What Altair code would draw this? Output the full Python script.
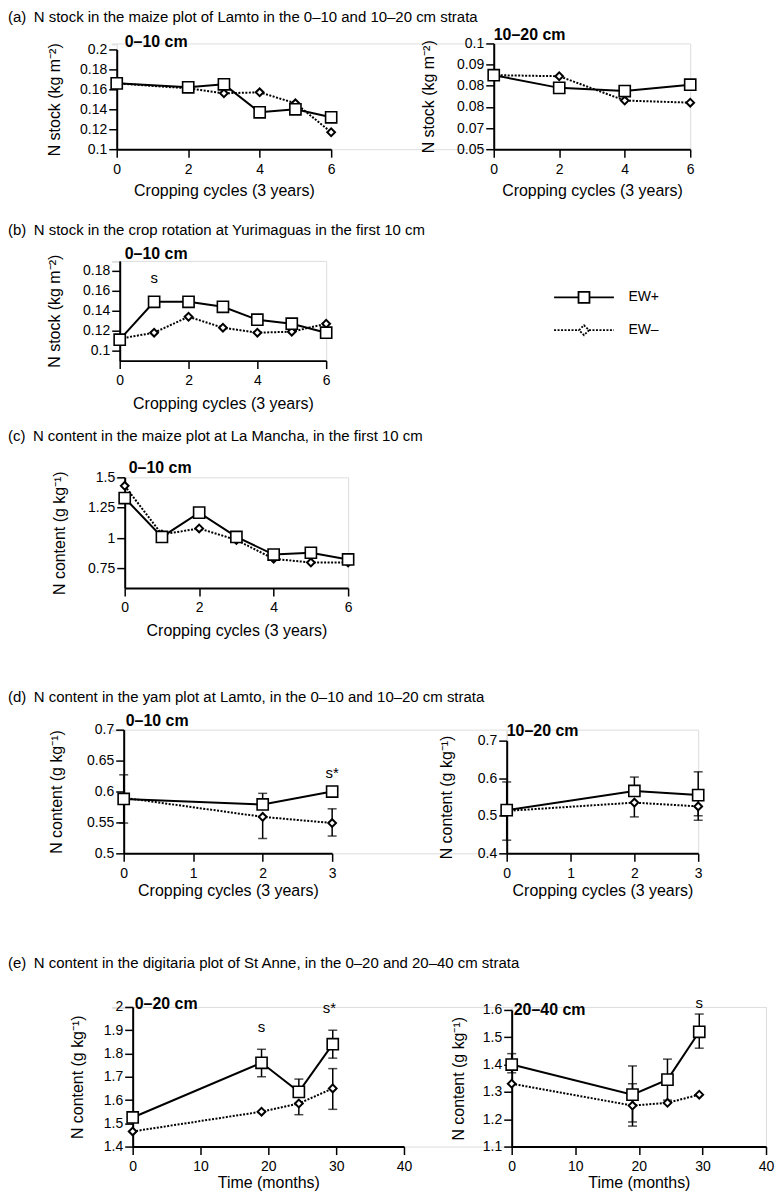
import altair as alt
import pandas as pd

FONT = "Liberation Sans"

# ---------------- data ----------------
# (a) Lamto maize plot, 0-10 cm
a1_x_p = [0, 2, 3, 4, 5, 6]
a1_y_p = [0.166, 0.162, 0.165, 0.137, 0.140, 0.132]
a1_x_m = [0, 2, 3, 4, 5, 6]
a1_y_m = [0.166, 0.161, 0.156, 0.157, 0.146, 0.117]
a1_yticks = [0.1, 0.12, 0.14, 0.16, 0.18, 0.2]
a1_ylabels = ["0.1", "0.12", "0.14", "0.16", "0.18", "0.2"]

# (a) Lamto maize plot, 10-20 cm
a2_x = [0, 2, 4, 6]
a2_y_p = [0.085, 0.079, 0.0775, 0.0805]
a2_y_m = [0.085, 0.0845, 0.073, 0.072]
a2_yticks = [0.05, 0.06, 0.07, 0.08, 0.09, 0.1]
a2_ylabels = ["0.05", "0.07", "0.08", "0.08", "0.09", "0.1"]

# (b) Yurimaguas crop rotation, 0-10 cm
b_x = [0, 1, 2, 3, 4, 5, 6]
b_y_p = [0.111, 0.149, 0.149, 0.144, 0.131, 0.127, 0.118]
b_y_m = [0.112, 0.118, 0.134, 0.123, 0.118, 0.119, 0.127]
b_yticks = [0.1, 0.12, 0.14, 0.16, 0.18]
b_ylabels = ["0.1", "0.12", "0.14", "0.16", "0.18"]
b_ann_x, b_ann_y, b_ann_t = [1], [0.173], ["s"]

# (c) La Mancha maize plot, 0-10 cm
c_x = [0, 1, 2, 3, 4, 5, 6]
c_y_p = [1.33, 1.01, 1.21, 1.01, 0.865, 0.88, 0.825]
c_y_m = [1.43, 1.03, 1.08, 0.985, 0.83, 0.80, 0.80]
c_yticks = [0.75, 1, 1.25, 1.5]
c_ylabels = ["0.75", "1", "1.25", "1.5"]

# (d) Lamto yam plot, 0-10 cm
d1_x = [0, 2, 3]
d1_y_p = [0.588, 0.579, 0.600]
d1_y_m = [0.590, 0.559, 0.549]
d1_err_x = [0, 2, 2, 3]
d1_err_lo = [0.549, 0.579, 0.524, 0.528]
d1_err_hi = [0.627, 0.597, 0.559, 0.572]
d1_yticks = [0.5, 0.55, 0.6, 0.65, 0.7]
d1_ylabels = ["0.5", "0.55", "0.6", "0.65", "0.7"]
d1_ann_x, d1_ann_y, d1_ann_t = [3], [0.63], ["s*"]

# (d) Lamto yam plot, 10-20 cm
d2_x = [0, 2, 3]
d2_y_p = [0.515, 0.566, 0.555]
d2_y_m = [0.513, 0.535, 0.525]
d2_err_x = [0, 2, 2, 3, 3]
d2_err_lo = [0.435, 0.566, 0.497, 0.500, 0.488]
d2_err_hi = [0.590, 0.603, 0.535, 0.617, 0.525]
d2_yticks = [0.4, 0.5, 0.6, 0.7]
d2_ylabels = ["0.4", "0.5", "0.6", "0.7"]

# (e) St Anne digitaria plot, 0-20 cm
e_x = [0, 19, 24.5, 29.5]
e1_y_p = [1.525, 1.76, 1.635, 1.84]
e1_y_m = [1.465, 1.55, 1.585, 1.65]
e1_err_x = [19, 24.5, 24.5, 29.5, 29.5]
e1_err_lo = [1.70, 1.635, 1.537, 1.78, 1.56]
e1_err_hi = [1.818, 1.69, 1.585, 1.90, 1.735]
e1_yticks = [1.4, 1.5, 1.6, 1.7, 1.8, 1.9, 2.0]
e1_ylabels = ["1.4", "1.5", "1.6", "1.7", "1.8", "1.9", "2"]
e1_ann_x, e1_ann_y, e1_ann_t = [19, 29], [1.915, 1.995], ["s", "s*"]

# (e) St Anne digitaria plot, 20-40 cm
e2_y_p = [1.40, 1.29, 1.345, 1.52]
e2_y_m = [1.33, 1.25, 1.26, 1.29]
e2_err_x = [0, 19, 19, 24.5, 29.5]
e2_err_lo = [1.37, 1.19, 1.175, 1.27, 1.46]
e2_err_hi = [1.44, 1.395, 1.33, 1.42, 1.585]
e2_yticks = [1.1, 1.2, 1.3, 1.4, 1.5, 1.6]
e2_ylabels = ["1.1", "1.2", "1.3", "1.4", "1.5", "1.6"]
e2_ann_x, e2_ann_y, e2_ann_t = [29.5], [1.625], ["s"]

cyc_ticks6 = [0, 2, 4, 6]
cyc_labels6 = ["0", "2", "4", "6"]
cyc_ticks3 = [0, 1, 2, 3]
cyc_labels3 = ["0", "1", "2", "3"]
month_ticks = [0, 10, 20, 30, 40]
month_labels = ["0", "10", "20", "30", "40"]

series_names = ["EW+", "EW–"]
legend_shapes = [
    "M-4,0H-0.733M0.733,0H4M-0.733,-0.733H0.733V0.733H-0.733Z",
    "M-4,0H-0.667M0.667,0H4M-0.667,0L0,-0.667L0.667,0L0,0.667Z",
]
legend_dash = [[1, 0], [2, 1.5]]

T_STOCK = "N stock (kg m⁻²)"
T_CONT = "N content (g kg⁻¹)"
T_CYC = "Cropping cycles (3 years)"
T_TIME = "Time (months)"

AX = dict(domain=True, domainColor="black", domainWidth=2, tickColor="black", tickWidth=1.5,
          tickSize=8, labelFont=FONT, labelFontSize=14, labelColor="black",
          titleFont=FONT, titleFontSize=16, titleColor="black",
          titleFontWeight="normal", grid=False, labelOverlap=False, labelFlush=False)


def label_expr(values, labels):
    expr = "''"
    for v, l in reversed(list(zip(values, labels))):
        expr = f"abs(datum.value - {v}) < 1e-6 ? '{l}' : ({expr})"
    return expr


def panel(x_p, y_p, x_m, y_m, xdom, xticks, xlabels, xtitle, ydom, yticks, ylabels,
          ytitle, w, h, yrange, ytitle_x, sub, sub_dx, sub_dy,
          err=None, ann=None, legend=False, x_title_pad=4, group_w=None):
    def X(f):
        return alt.X(f"{f}:Q",
                     scale=alt.Scale(domain=xdom, nice=False, zero=False, range=[0, w]),
                     axis=alt.Axis(values=xticks, title=xtitle,
                                   labelExpr=label_expr(xticks, xlabels),
                                   labelPadding=5, titlePadding=x_title_pad, **AX))

    def Y(f):
        return alt.Y(f"{f}:Q",
                     scale=alt.Scale(domain=ydom, nice=False, zero=False, range=yrange),
                     axis=alt.Axis(values=yticks, title=ytitle, titleX=ytitle_x,
                                   titleBaseline="middle", labelPadding=2,
                                   labelExpr=label_expr(yticks, ylabels), **AX))

    dp = pd.DataFrame({"x": x_p, "y": y_p})
    dm = pd.DataFrame({"x": x_m, "y": y_m})
    layers = [
        alt.Chart(dm).mark_line(color="black", strokeWidth=2, strokeDash=[2, 1.5])
        .encode(x=X("x"), y=Y("y")),
        alt.Chart(dp).mark_line(color="black", strokeWidth=2)
        .encode(x=X("x"), y=Y("y")),
    ]
    if err is not None:
        de = pd.DataFrame({"x": err[0], "lo": err[1], "hi": err[2]})
        layers.append(
            alt.Chart(de).mark_errorbar(ticks=True, size=9, thickness=1.5, color="black")
            .encode(x=X("x"), y=Y("lo"), y2=alt.Y2("hi"))
        )
    layers.append(
        alt.Chart(dm).mark_point(shape="diamond", size=60, filled=True, fill="white",
                                 stroke="black", strokeWidth=2, opacity=1)
        .encode(x=X("x"), y=Y("y"))
    )
    layers.append(
        alt.Chart(dp).mark_point(shape="square", size=125, filled=True, fill="white",
                                 stroke="black", strokeWidth=1.6, opacity=1)
        .encode(x=X("x"), y=Y("y"))
    )
    if ann is not None:
        da = pd.DataFrame({"x": ann[0], "y": ann[1], "t": ann[2]})
        layers.append(
            alt.Chart(da).mark_text(font=FONT, fontSize=15, color="black")
            .encode(x=X("x"), y=Y("y"), text="t:N")
        )
    if legend:
        dl = pd.DataFrame({"x": x_p[:2], "y": y_p[:2], "series": series_names})
        leg = dict(title=None, orient="none", legendX=457, legendY=28,
                   symbolSize=225, symbolStrokeWidth=1.8, symbolStrokeColor="black",
                   symbolFillColor="white", symbolOpacity=1, labelOffset=36,
                   rowPadding=14, labelFont=FONT, labelFontSize=14, labelColor="black")
        layers.append(
            alt.Chart(dl).mark_point(opacity=0)
            .encode(
                x=X("x"), y=Y("y"),
                shape=alt.Shape("series:N",
                                scale=alt.Scale(domain=series_names, range=legend_shapes),
                                legend=alt.Legend(**leg)),
                strokeDash=alt.StrokeDash("series:N",
                                          scale=alt.Scale(domain=series_names, range=legend_dash),
                                          legend=alt.Legend(**leg)),
            )
        )
    return alt.layer(*layers).properties(
        width=group_w if group_w else w, height=h,
        title=alt.TitleParams(sub, anchor="start", frame="group", offset=0, dx=sub_dx,
                              dy=sub_dy, baseline="alphabetic", font=FONT, fontSize=16,
                              fontWeight="bold", color="black"),
    )


def spacer(width):
    # empty, invisible cell that sets where a row's first panel starts
    return (alt.Chart(pd.DataFrame({"s": [0]})).mark_point(opacity=0)
            .encode(x=alt.X("s:Q", axis=None), y=alt.Y("s:Q", axis=None))
            .properties(width=width, height=1))


ORIGIN = 112
ROW_DX = -(ORIGIN - 8)


def row(axis_x, charts, text, dy):
    return alt.hconcat(spacer(axis_x - ORIGIN), *charts, spacing=0, bounds="flush").properties(
        title=alt.TitleParams(text, anchor="start", frame="group", offset=0, dx=ROW_DX, dy=dy,
                              baseline="alphabetic", font=FONT, fontSize=15,
                              fontWeight="normal", color="black")
    )


pa1 = panel(a1_x_p, a1_y_p, a1_x_m, a1_y_m, [0, 6], cyc_ticks6, cyc_labels6, T_CYC,
            [0.1, 0.2], a1_yticks, a1_ylabels, T_STOCK, 215, 106, [106, 6], -62,
            "0–10 cm", 8, 21, x_title_pad=6, group_w=495 - 117)
pa2 = panel(a2_x, a2_y_p, a2_x, a2_y_m, [0, 6], cyc_ticks6, cyc_labels6, T_CYC,
            [0.05, 0.1], a2_yticks, a2_ylabels, T_STOCK, 197, 106, [106, 0], -65,
            "10–20 cm", 0, 20, x_title_pad=6)
pb = panel(b_x, b_y_p, b_x, b_y_m, [0, 6], cyc_ticks6, cyc_labels6, T_CYC,
           [0.09, 0.19], b_yticks, b_ylabels, T_STOCK, 207, 100, [100, 0], -65,
           "0–10 cm", 5, 21, ann=(b_ann_x, b_ann_y, b_ann_t), legend=True,
           x_title_pad=8)
pc = panel(c_x, c_y_p, c_x, c_y_m, [0, 6], cyc_ticks6, cyc_labels6, T_CYC,
           [0.59, 1.5], c_yticks, c_ylabels, T_CONT, 224, 111, [111, 0], -65,
           "0–10 cm", 4, 19, x_title_pad=8)
pd1 = panel(d1_x, d1_y_p, d1_x, d1_y_m, [0, 3], cyc_ticks3, cyc_labels3, T_CYC,
            [0.5, 0.7], d1_yticks, d1_ylabels, T_CONT, 209, 124, [124, 0], -67,
            "0–10 cm", 2, 19,
            err=(d1_err_x, d1_err_lo, d1_err_hi), ann=(d1_ann_x, d1_ann_y, d1_ann_t),
            x_title_pad=2, group_w=508 - 124)
pd2 = panel(d2_x, d2_y_p, d2_x, d2_y_m, [0, 3], cyc_ticks3, cyc_labels3, T_CYC,
            [0.4, 0.7], d2_yticks, d2_ylabels, T_CONT, 192, 124, [124, 11], -60,
            "10–20 cm", 0, 22, err=(d2_err_x, d2_err_lo, d2_err_hi), x_title_pad=2)
pe1 = panel(e_x, e1_y_p, e_x, e1_y_m, [0, 40], month_ticks, month_labels, T_TIME,
            [1.4, 2.0], e1_yticks, e1_ylabels, T_CONT, 272, 140, [140, 0], -55,
            "0–20 cm", 2, 25,
            err=(e1_err_x, e1_err_lo, e1_err_hi), ann=(e1_ann_x, e1_ann_y, e1_ann_t),
            x_title_pad=1, group_w=513 - 133)
pe2 = panel(e_x, e2_y_p, e_x, e2_y_m, [0, 40], month_ticks, month_labels, T_TIME,
            [1.1, 1.6], e2_yticks, e2_ylabels, T_CONT, 255, 140, [140, 3], -53,
            "20–40 cm", 2, 35,
            err=(e2_err_x, e2_err_lo, e2_err_hi), ann=(e2_ann_x, e2_ann_y, e2_ann_t),
            x_title_pad=1)

row_a = row(117, [pa1, pa2],
            "(a)\u2002N stock in the maize plot of Lamto in the 0–10 and 10–20 cm strata", 9.5)
row_b = row(120, [pb],
            "(b)\u2002N stock in the crop rotation at Yurimaguas in the first 10 cm", 4.5)
row_b = row_b.resolve_legend(shape="independent", strokeDash="independent")
row_c = row(125, [pc],
            "(c)\u2002N content in the maize plot at La Mancha, in the first 10 cm", -3.5)
row_d = row(124, [pd1, pd2],
            "(d)\u2002N content in the yam plot at Lamto, in the 0–10 and 10–20 cm strata", 4.5)
row_e = row(133, [pe1, pe2],
            "(e)\u2002N content in the digitaria plot of St Anne, in the 0–20 and 20–40 cm strata",
            -12.5)

v1 = alt.concat(row_a, row_b, columns=1, align="none", spacing=24)
v2 = alt.concat(v1, row_c, columns=1, align="none", spacing=17)
v3 = alt.concat(v2, row_d, columns=1, align="none", spacing=50)
chart = alt.concat(v3, row_e, columns=1, align="none", spacing=57).properties(
    padding=0, background="white")
chart = (chart.configure_view(stroke=None, strokeWidth=0, strokeOpacity=0)
         .configure_axis(domain=False, grid=False, domainColor="white",
                         tickColor="white", gridColor="white")
         .configure(font=FONT))

chart.save("out.html", embed_options={"renderer": "svg", "actions": False})
